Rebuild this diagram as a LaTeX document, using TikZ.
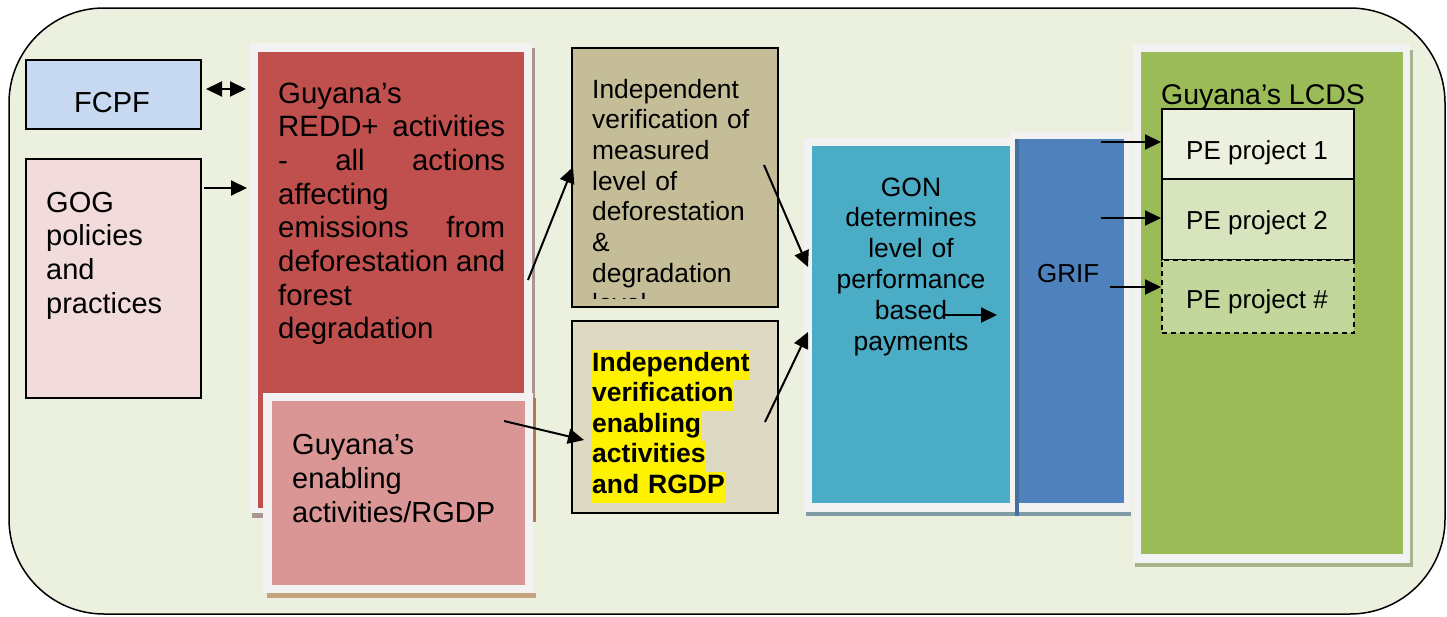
\documentclass[tikz,border=0pt]{standalone}
\usepackage{fontspec}
\setmainfont{Liberation Sans}
\usetikzlibrary{arrows.meta}
\definecolor{bggreen}{HTML}{EBF1DE}
\definecolor{fcpfblue}{HTML}{C6D9F1}
\definecolor{gogpink}{HTML}{F2DCDB}
\definecolor{reddred}{HTML}{C0504D}
\definecolor{enabpink}{HTML}{D99694}
\definecolor{veriftan}{HTML}{C4BD97}
\definecolor{veriflight}{HTML}{DDD9C3}
\definecolor{gonteal}{HTML}{4BACC6}
\definecolor{grifblue}{HTML}{4F81BD}
\definecolor{grifedge}{HTML}{41719C}
\definecolor{lcdsgreen}{HTML}{9BBB59}
\definecolor{peone}{HTML}{EBF1DE}
\definecolor{petwo}{HTML}{D7E4BD}
\definecolor{pemore}{HTML}{C3D69B}
\definecolor{framegray}{HTML}{F2F2F2}
\definecolor{redshade}{HTML}{A99591}
\definecolor{tanshade}{HTML}{C4A47C}
\definecolor{brownshade}{HTML}{B07C58}
\definecolor{tealshade}{HTML}{7F9CA4}
\definecolor{greenshade}{HTML}{A6B38C}
\newcommand\hlline[1]{{\setlength\fboxsep{0pt}\colorbox{yellow}{\strut #1}}}
\begin{document}
\begin{tikzpicture}[x=1pt, y=-1pt, >={Triangle[length=16pt,width=15pt]},
    box/.style={draw, line width=1.5pt, anchor=north west, inner sep=0pt},
    panel/.style={anchor=north west, inner sep=0pt},
    txt/.style={anchor=base west, inner sep=0pt, align=left},
    link/.style={line width=2pt}]
    \useasboundingbox (0,0) rectangle (1447,616);
    \draw[line width=1.5pt, fill=bggreen, rounded corners=95pt] (9,8) rectangle (1445,614);

    % left column
    \node[box, fill=fcpfblue, minimum width=175, minimum height=69] (fcpf) at (25,59) {};
    \node[anchor=base, inner sep=0pt, font=\fontsize{29}{34}\selectfont] (fcpftxt) at (112,112) {FCPF};
    \node[box, fill=gogpink, minimum width=175, minimum height=239] (gog) at (25,158) {};
    \node[txt, text width=150, font=\fontsize{29}{33.7}\selectfont] (gogtxt) at (46,212)
        {GOG\\policies\\and\\practices};

    % REDD+ and enabling activities
    \fill[redshade] (532,48) rectangle (535,513);
    \fill[redshade] (252,513) rectangle (263,518);
    \fill[framegray] (250,43) rectangle (532,513);
    \node[panel, fill=reddred, minimum width=266, minimum height=456] (redd) at (258,52) {};
    \node[txt, text width=227, font=\fontsize{29.4}{33.7}\selectfont] (reddtxt) at (278,103)
        {Guyana’s\\REDD+\hfill activities\\-\hfill all\hfill actions\\affecting\\emissions\hfill from\\deforestation\hfill and\\forest\\degradation};
    \fill[brownshade] (533,398) rectangle (536,522);
    \fill[tanshade] (267,593) rectangle (536,598);
    \fill[framegray] (263,393) rectangle (533,593);
    \node[panel, fill=enabpink, minimum width=253, minimum height=184] (enab) at (272,401) {};
    \node[txt, text width=230, font=\fontsize{29}{34}\selectfont] (enabtxt) at (292,454)
        {Guyana’s\\enabling\\activities/RGDP};

    % verification
    \node[box, fill=veriftan, minimum width=206, minimum height=259] (verif) at (571,47) {};
    \begin{scope}
        \clip (571,47) rectangle (777,298);
        \node[txt, text width=180, font=\fontsize{26.4}{30.7}\selectfont] (veriftxt) at (592,98)
            {Independent\\verification of\\measured\\level of\\deforestation\\\&\\degradation\\level};
    \end{scope}
    \node[box, fill=veriflight, minimum width=206, minimum height=192] (enabverif) at (571,320) {};
    \node[txt, text width=180, font=\bfseries\fontsize{26.5}{30.6}\selectfont] (enabveriftxt) at (592,371)
        {\hlline{Independent}\\\hlline{verification}\\\hlline{enabling}\\\hlline{activities}\\\hlline{and RGDP}};

    % GON and GRIF
    \fill[tealshade] (806,512) rectangle (1131,516);
    \fill[framegray] (804,138) rectangle (1018,512);
    \node[panel, fill=gonteal, minimum width=198, minimum height=357] (gon) at (812,146) {};
    \node[anchor=base, inner sep=0pt, text width=190, align=center, font=\fontsize{26.5}{30.8}\selectfont] (gontxt) at (911,196)
        {GON\\determines\\level of\\performance\\based\\payments};
    \fill[framegray] (1010,132) rectangle (1132,512);
    \node[panel, fill=grifblue, minimum width=106, minimum height=364] (grif) at (1018,139) {};
    \fill[grifedge] (1015,139) rectangle (1019,516);
    \node[txt, font=\fontsize{26}{30}\selectfont] (griftxt) at (1037,282) {GRIF};

    % LCDS
    \fill[greenshade] (1135,50) rectangle (1413,567);
    \fill[framegray] (1133,44) rectangle (1410,563);
    \node[panel, fill=lcdsgreen, minimum width=262, minimum height=502] (lcds) at (1141,52) {};
    \node[txt, font=\fontsize{28.5}{32}\selectfont] (lcdstxt) at (1161,104) {Guyana’s LCDS};
    \node[box, fill=peone, minimum width=192, minimum height=70] (pe1) at (1161,108) {};
    \node[box, fill=petwo, minimum width=192, minimum height=81] (pe2) at (1161,178) {};
    \node[box, fill=pemore, dash pattern=on 5pt off 4pt, minimum width=192, minimum height=73] (pen) at (1161,259) {};
    \node[anchor=base, inner sep=0pt, font=\fontsize{26}{30}\selectfont] (pe1txt) at (1257,159) {PE project 1};
    \node[anchor=base, inner sep=0pt, font=\fontsize{26}{30}\selectfont] (pe2txt) at (1257,229) {PE project 2};
    \node[anchor=base, inner sep=0pt, font=\fontsize{26}{30}\selectfont] (pentxt) at (1257,308) {PE project \#};

    % arrow ends
    \coordinate (fcpfout) at (206,89);
    \coordinate (reddin) at (246,89);
    \coordinate (gogout) at (204,188);
    \coordinate (gogin) at (247,188);
    \coordinate (reddout) at (528,280);
    \coordinate (verifin) at (573,167);
    \coordinate (verifout) at (764,165);
    \coordinate (gonin) at (808,267);
    \coordinate (enabout) at (504,421);
    \coordinate (enabverifin) at (584,440);
    \coordinate (enabverifout) at (765,422);
    \coordinate (gonlow) at (808,332);
    \coordinate (gonout) at (945,315);
    \coordinate (grifin) at (997,315);
    \coordinate (grifout1) at (1101,142);
    \coordinate (grifout2) at (1101,218);
    \coordinate (grifout3) at (1110,287);

    \draw[link, <->] (fcpfout) -- (reddin);
    \draw[link, ->] (gogout) -- (gogin);
    \draw[link, ->] (reddout) -- (verifin);
    \draw[link, ->] (verifout) -- (gonin);
    \draw[link, ->] (enabout) -- (enabverifin);
    \draw[link, ->] (enabverifout) -- (gonlow);
    \draw[link, ->] (gonout) -- (grifin);
    \draw[link, ->] (grifout1) -- (grifout1 -| pe1.west);
    \draw[link, ->] (grifout2) -- (grifout2 -| pe2.west);
    \draw[link, ->] (grifout3) -- (grifout3 -| pen.west);
\end{tikzpicture}
\end{document}
